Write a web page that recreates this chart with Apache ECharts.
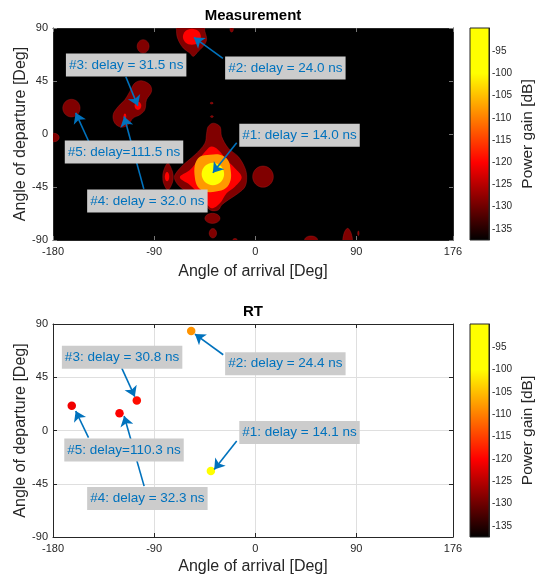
<!DOCTYPE html>
<html>
<head>
<meta charset="utf-8">
<script src="https://cdn.jsdelivr.net/npm/echarts@6/dist/echarts.min.js"></script>
<style>
html,body{margin:0;padding:0;background:#fff;}
#chart{width:544px;height:578px;}
</style>
</head>
<body>
<div id="chart"></div>
<script>
// ---------------- data ----------------
const xRange = [-180, 176];
const yRange = [-90, 90];
const gainRange = [-137.5, -89.75];
const gainTicks = [-135, -130, -125, -120, -115, -110, -105, -100, -95];
// colormap stops [dB, colour]
const cmapStops = [[-137.5, '#000000'], [-120, '#ff0000'], [-100, '#ffff00'], [-89.75, '#ffff00']];

// contour levels (dB)
const lvDark = -128.75, lvRed = -120, lvOrange = -108, lvYellow = -97;

// measurement contour blobs: [level dB, AoA, AoD, half-width AoA, half-width AoD]
const measBlobs = [
  [lvDark, -99.8, 74.4, 5.3, 5.7],
  [lvDark, -163.6, 22, 7.7, 7.5],
  [lvDark, -179, -3, 4.5, 3.6],
  [lvDark, 6.9, -36.2, 9.2, 9],
  [lvDark, -38.1, -71.6, 6.7, 4.3],
  [lvDark, -37.7, -84.3, 3.3, 4],
  [lvDark, -38.8, 26.2, 1.3, 0.8],
  [lvDark, -38.6, 14.8, 1.3, 0.8],
  [lvDark, 49.7, -90, 5.8, 3.4],
  [lvDark, 91.8, -84.3, 0.6, 2],
  [lvDark, -21, 89, 1.5, 2.5],
  [lvDark, -18, -90, 2, 1.2],
  [lvRed, -56.4, 82.6, 8, 6.8],
  [lvRed, -104.4, 23.9, 3, 3.5],
  [lvRed, -116, 14.8, 1.2, 2.5],
  [lvRed, -78.5, -36.2, 2, 4],
  [lvYellow, -37.7, -34, 10, 9.5]
];

// measurement contour polygons (AoA, AoD vertices)
const polyMainDark = [[-71.5,-34.7],[-64.1,-26.2],[-53.7,-17.7],[-44.8,-7.8],[-43.3,0.7],[-41.9,6.3],[-37.4,9.2],[-31.4,6.3],[-29.9,-2.2],[-24.0,-12],[-15.1,-19.2],[-9.1,-29],[-7.6,-36.7],[-9.1,-44.7],[-15.1,-50.3],[-24,-56],[-29.9,-60.3],[-32.9,-64.5],[-38.8,-65.1],[-41.9,-63.1],[-47.7,-56],[-58.2,-50.3],[-67.1,-44.7],[-71.5,-39]];
const polyMainRed = [[-67.1,-36.7],[-58.2,-30.5],[-50.8,-22],[-43.3,-13.5],[-38.8,-10.7],[-32.9,-13.5],[-25.5,-22],[-18.1,-29],[-12.1,-36.7],[-18.1,-44.7],[-25.5,-50.3],[-31.4,-58.8],[-38.8,-63.1],[-44.8,-57.4],[-50.8,-50.3],[-58.2,-43.2]];
const polyMainOrange = [[-53.7,-26.2],[-49.3,-19.4],[-40.3,-17.7],[-31.4,-17.7],[-24.3,-22],[-21.9,-30.5],[-21.9,-39],[-26.1,-45.8],[-35,-48.9],[-44.8,-48.9],[-51,-45],[-53.7,-37.3]];
const polyPath2Dark = [[-70,85.7],[-68.6,80],[-64.1,73],[-58.2,68.7],[-55.2,65.9],[-50.8,70.1],[-46.3,74.4],[-43.3,80],[-44.8,87.1],[-46.6,92.8],[-68.9,92.8]];
const polyClusterDark = [[-101.2,45.2],[-93.8,41.8],[-92.3,36.1],[-96.8,29],[-98.3,20.5],[-102.7,16.3],[-108.7,13.5],[-113.2,7.8],[-119,5.8],[-125,9.2],[-126.5,16.3],[-122,23.3],[-116.1,29],[-111.6,36.1],[-107.2,43.2]];
const polyLeftLens = [[-77.8,-24.8],[-74,-31],[-73,-36.5],[-74,-42],[-77.8,-47.5],[-81.5,-42],[-82.3,-36.5],[-81.5,-31]];
const polySpike = [[78.5,-92],[79.1,-84.1],[82.2,-80.1],[85.3,-84.1],[86,-92]];
const measPolyPoints = [polyMainDark, polyPath2Dark, polyClusterDark, polyLeftLens, polySpike, polyMainRed, polyMainOrange];
const measPolyLevels = [lvDark, lvDark, lvDark, lvDark, lvDark, lvRed, lvOrange];

// measurement annotations
const measLabels = ['#1: delay = 14.0 ns', '#2: delay = 24.0 ns', '#3: delay = 31.5 ns', '#4: delay = 32.0 ns', '#5: delay=111.5 ns'];
const measLabelPos = [[39.4,-1], [26.8,56], [-114.9,58.5], [-96,-56.9], [-116.8,-15.2]];
const measArrowTail = [[-16.5,-7.5], [-28.8,64.2], [-115.2,48.6], [-99.2,-46.6], [-148.2,-6.4]];
const measArrowHead = [[-37.7,-33], [-54.6,82], [-104.5,23.9], [-116.7,14.8], [-159.8,18]];

// ray-tracing paths
const rtAoA = [-39.5, -57, -105.4, -120.8, -163.3];
const rtAoD = [-34.3, 84, 25.3, 14.6, 21];
const rtGain = [-95, -108.5, -119, -120, -121];
const rtLabels = ['#1: delay = 14.1 ns', '#2: delay = 24.4 ns', '#3: delay = 30.8 ns', '#4: delay = 32.3 ns', '#5: delay=110.3 ns'];
const rtLabelPos = [[39.4,-1.7], [26.8,56.4], [-118.5,61.9], [-96,-57.5], [-116.8,-16.5]];
const rtArrowTail = [[-16.5,-8.9], [-28.5,64], [-118.8,52.7], [-98.9,-47], [-148.4,-6.1]];
const rtArrowHead = [[-36.5,-32.9], [-53.7,81.5], [-107.2,28.6], [-116.7,12.3], [-159.8,16.5]];

// ---------------- helpers ----------------
function hex2rgb(h){ return [parseInt(h.slice(1,3),16), parseInt(h.slice(3,5),16), parseInt(h.slice(5,7),16)]; }
function cmap(v){
  for (let i = 0; i < cmapStops.length - 1; i++) {
    const a = cmapStops[i], b = cmapStops[i+1];
    if (v <= b[0] || i === cmapStops.length - 2) {
      const t = Math.max(0, Math.min(1, (v - a[0]) / (b[0] - a[0])));
      const ca = hex2rgb(a[1]), cb = hex2rgb(b[1]);
      return 'rgb(' + ca.map((c, k) => Math.round(c + (cb[k] - c) * t)).join(',') + ')';
    }
  }
}
const NC = 96;
const vmColors = [];
for (let i = 0; i < NC; i++) vmColors.push(cmap(gainRange[0] + (gainRange[1] - gainRange[0]) * i / (NC - 1)));
const gradStops = cmapStops.map(s => ({offset: 1 - (s[0] - gainRange[0]) / (gainRange[1] - gainRange[0]), color: s[1]}));

const FONT = 'Liberation Sans, Arial, Helvetica, sans-serif';
const AX = '#262626';

function mainX(grid, showSplit, tickColor, gap){
  return [
    {gridIndex: grid, type: 'value', min: xRange[0], max: xRange[1], interval: 90, position: 'bottom',
     name: 'Angle of arrival [Deg]', nameLocation: 'middle', nameGap: gap, nameMoveOverlap: false,
     nameTextStyle: {fontSize: 16, color: AX, fontFamily: FONT},
     axisLine: {show: true, onZero: false, lineStyle: {color: AX, width: 1}},
     axisTick: {show: true, inside: true, length: 4, lineStyle: {color: tickColor}},
     axisLabel: {color: AX, fontSize: 11, margin: 6, fontFamily: FONT},
     splitLine: {show: showSplit, lineStyle: {color: '#dfdfdf', width: 1}}},
    {gridIndex: grid, type: 'value', min: xRange[0], max: xRange[1], interval: 90, position: 'top',
     axisLine: {show: true, onZero: false, lineStyle: {color: AX, width: 1}},
     axisTick: {show: true, inside: true, length: 4, lineStyle: {color: tickColor}},
     axisLabel: {show: false}, splitLine: {show: false}}
  ];
}
function mainY(grid, showSplit, tickColor){
  return [
    {gridIndex: grid, type: 'value', min: yRange[0], max: yRange[1], interval: 45, position: 'left',
     name: 'Angle of departure [Deg]', nameLocation: 'middle', nameGap: 24, nameRotate: 90, nameMoveOverlap: false,
     nameTextStyle: {fontSize: 16, color: AX, fontFamily: FONT},
     axisLine: {show: true, onZero: false, lineStyle: {color: AX, width: 1}},
     axisTick: {show: true, inside: true, length: 4, lineStyle: {color: tickColor}},
     axisLabel: {color: AX, fontSize: 11, margin: 5, fontFamily: FONT},
     splitLine: {show: showSplit, lineStyle: {color: '#dfdfdf', width: 1}}},
    {gridIndex: grid, type: 'value', min: yRange[0], max: yRange[1], interval: 45, position: 'right',
     axisLine: {show: true, onZero: false, lineStyle: {color: AX, width: 1}},
     axisTick: {show: true, inside: true, length: 4, lineStyle: {color: tickColor}},
     axisLabel: {show: false}, splitLine: {show: false}}
  ];
}
function cbX(grid){ return {gridIndex: grid, type: 'value', min: 0, max: 1, show: false}; }
function cbY(grid){
  return {gridIndex: grid, type: 'value', min: gainRange[0], max: gainRange[1], position: 'right',
    name: 'Power gain [dB]', nameLocation: 'middle', nameGap: 31, nameRotate: 90, nameMoveOverlap: false,
    nameTextStyle: {fontSize: 15.5, color: AX, fontFamily: FONT},
    axisLine: {show: true, onZero: false, lineStyle: {color: AX}},
    axisTick: {show: true, inside: true, length: 3, customValues: gainTicks, lineStyle: {color: AX}},
    axisLabel: {color: AX, fontSize: 10, margin: 3, customValues: gainTicks, fontFamily: FONT},
    splitLine: {show: false}};
}

function levelZ(db){ return Math.round(db + 140); }

function polyRender(params, api){
  const pts = measPolyPoints[api.value(1)].map(p => api.coord(p));
  const db = api.value(0);
  return {type: 'polygon', shape: {points: pts, smooth: 0.35},
    style: {fill: api.visual('color'), stroke: db === lvDark ? 'rgba(170,30,30,0.7)' : 'rgba(0,0,0,0)', lineWidth: 0.6},
    z2: levelZ(db)};
}
function blobRender(params, api){
  const c = api.coord([api.value(1), api.value(2)]);
  const s = api.size([api.value(3), api.value(4)]);
  const db = api.value(0);
  return {type: 'ellipse', shape: {cx: c[0], cy: c[1], rx: s[0], ry: s[1]},
    style: {fill: api.visual('color'), stroke: db === lvDark ? 'rgba(170,30,30,0.7)' : 'rgba(0,0,0,0)', lineWidth: 0.6},
    z2: levelZ(db)};
}
function cbRender(params, api){
  const p1 = api.coord([0, gainRange[1]]);
  const p2 = api.coord([1, gainRange[0]]);
  return {type: 'rect', shape: {x: p1[0], y: p1[1], width: p2[0] - p1[0], height: p2[1] - p1[1]},
    style: {fill: new echarts.graphic.LinearGradient(0, 0, 0, 1, gradStops.slice().reverse()), stroke: AX, lineWidth: 1}};
}
function labelRender(labels){
  return function(params, api){
    const c = api.coord([api.value(0), api.value(1)]);
    return {type: 'text', x: c[0], y: c[1], z2: 10,
      style: {text: labels[params.dataIndex], fill: '#0072BD', fontSize: 13.5, fontFamily: FONT,
        align: 'center', verticalAlign: 'middle', backgroundColor: '#cccccc',
        padding: [4, 3, 3, 3], lineHeight: 16, opacity: 1}};
  };
}

function arrowSeries(xi, yi, tails, heads){
  return {type: 'lines', coordinateSystem: 'cartesian2d', xAxisIndex: xi, yAxisIndex: yi, z: 5,
    symbol: ['none', 'arrow'], symbolSize: 10, silent: true,
    lineStyle: {color: '#0072BD', width: 1.6, opacity: 1, curveness: 0},
    data: tails.map((t, i) => ({coords: [t, heads[i]]}))};
}
function labelSeries(xi, yi, pos, labels){
  return {type: 'custom', xAxisIndex: xi, yAxisIndex: yi, z: 6, silent: true,
    renderItem: labelRender(labels), data: pos};
}

const chart = echarts.init(document.getElementById('chart'), null, {renderer: 'canvas'});
chart.setOption({
  animation: false,
  textStyle: {fontFamily: FONT},
  title: [
    {text: 'Measurement', left: 253, top: 8, textAlign: 'center', padding: 0,
     textStyle: {fontSize: 15, fontWeight: 'bold', color: '#000', fontFamily: FONT}},
    {text: 'RT', left: 253, top: 304, textAlign: 'center', padding: 0,
     textStyle: {fontSize: 15, fontWeight: 'bold', color: '#000', fontFamily: FONT}}
  ],
  grid: [
    {left: 53, top: 28, width: 400, height: 212, show: true, backgroundColor: '#000', borderWidth: 0, outerBoundsMode: 'none'},
    {left: 53, top: 324, width: 400, height: 213, show: true, backgroundColor: '#fff', borderWidth: 0, outerBoundsMode: 'none'},
    {left: 470, top: 28, width: 19, height: 212, outerBoundsMode: 'none'},
    {left: 470, top: 324, width: 19, height: 213, outerBoundsMode: 'none'}
  ],
  xAxis: [...mainX(0, false, '#777', 24), ...mainX(1, true, AX, 22), cbX(2), cbX(3)],
  yAxis: [...mainY(0, false, '#777'), ...mainY(1, true, AX), cbY(2), cbY(3)],
  visualMap: [{type: 'continuous', show: false, min: gainRange[0], max: gainRange[1], dimension: 0,
    seriesIndex: [0, 1, 2], inRange: {color: vmColors}}],
  series: [
    {type: 'custom', xAxisIndex: 0, yAxisIndex: 0, clip: true, silent: true, renderItem: polyRender,
     data: measPolyLevels.map((lv, i) => [lv, i])},
    {type: 'custom', xAxisIndex: 0, yAxisIndex: 0, clip: true, silent: true, renderItem: blobRender,
     data: measBlobs},
    {type: 'scatter', xAxisIndex: 2, yAxisIndex: 2, symbolSize: 8.5, z: 4,
     encode: {x: 1, y: 2}, itemStyle: {opacity: 1},
     data: rtGain.map((g, i) => [g, rtAoA[i], rtAoD[i]])},
    arrowSeries(0, 0, measArrowTail, measArrowHead),
    labelSeries(0, 0, measLabelPos, measLabels),
    arrowSeries(2, 2, rtArrowTail, rtArrowHead),
    labelSeries(2, 2, rtLabelPos, rtLabels),
    {type: 'custom', xAxisIndex: 4, yAxisIndex: 4, renderItem: cbRender, silent: true, data: [[0]]},
    {type: 'custom', xAxisIndex: 5, yAxisIndex: 5, renderItem: cbRender, silent: true, data: [[0]]}
  ]
});
</script>
</body>
</html>
